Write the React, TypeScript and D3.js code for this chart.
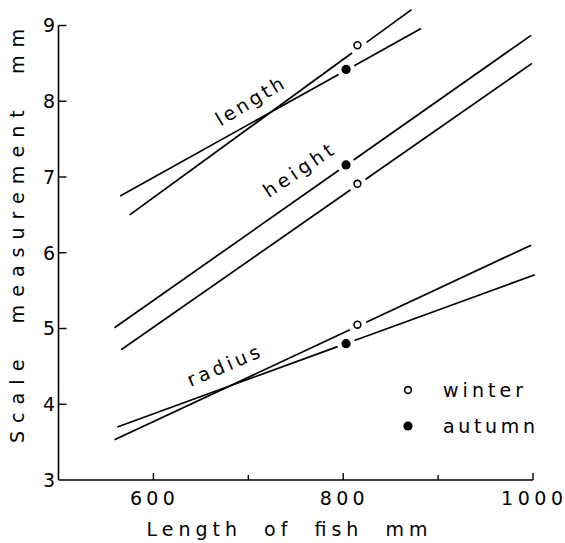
import React from "react";
import * as d3 from "d3";

// Regression lines
const lineNames = ["length", "length", "height", "height", "radius", "radius"];
const lineSeasons = ["winter", "autumn", "autumn", "winter", "winter", "autumn"];
const lineX0 = [575, 565, 559, 566, 559, 562];
const lineY0 = [6.5, 6.75, 5.01, 4.72, 3.53, 3.7];
const lineX1 = [872, 882, 998, 999, 998, 1002];
const lineY1 = [9.21, 8.96, 8.87, 8.5, 6.1, 5.71];
const markerX = [815, 803, 803, 815, 815, 803];
const markerY = [8.74, 8.42, 7.16, 6.91, 5.05, 4.8];

const xTicksMajor = [600, 800, 1000];
const xTicksMinor = [700, 900];
const yTicks = [3, 4, 5, 6, 7, 8, 9];

const labels = ["length", "height", "radius"];
const legendItems = ["winter", "autumn"];
const xTitle = "Length  of  fish  mm";
const yTitle = "Scale  measurement  mm";

const W = 565;
const H = 543;
const FONT = "'DejaVu Sans', sans-serif";

export default function App() {
  const x = d3.scaleLinear().domain([500, 1000]).range([58.5, 533]);
  const y = d3.scaleLinear().domain([3, 9]).range([480, 25.5]);
  const gap = 9;

  const segs: JSX.Element[] = [];
  const marks: JSX.Element[] = [];
  lineX0.forEach((_, i) => {
    const ax = x(lineX0[i]), ay = y(lineY0[i]);
    const bx = x(lineX1[i]), by = y(lineY1[i]);
    const mx = x(markerX[i]), my = y(markerY[i]);
    const dx = bx - ax, dy = by - ay;
    const len = Math.hypot(dx, dy);
    const ux = dx / len, uy = dy / len;
    const t = (mx - ax) * ux + (my - ay) * uy;
    const line = d3.line();
    const p1: [number, number][] = [[ax, ay], [ax + ux * (t - gap), ay + uy * (t - gap)]];
    const p2: [number, number][] = [[ax + ux * (t + gap), ay + uy * (t + gap)], [bx, by]];
    segs.push(<path key={"a" + i} d={line(p1) || ""} stroke="#000" strokeWidth={1.7} fill="none" />);
    segs.push(<path key={"b" + i} d={line(p2) || ""} stroke="#000" strokeWidth={1.7} fill="none" />);
    if (lineSeasons[i] === "winter") {
      marks.push(<circle key={"m" + i} cx={mx} cy={my} r={3.4} fill="#fff" stroke="#000" strokeWidth={1.6} />);
    } else {
      marks.push(<circle key={"m" + i} cx={mx} cy={my} r={4.6} fill="#000" />);
    }
  });

  const labelPos = [
    { cx: 253, cy: 107, ang: -31, len: 76 },
    { cx: 302, cy: 176, ang: -34, len: 80 },
    { cx: 226, cy: 372, ang: -23, len: 77 },
  ];

  return (
    <svg width={W} height={H} style={{ position: "absolute", left: 0, top: 0, background: "#fff" }}
      fontFamily={FONT}>
      <rect width={W} height={H} fill="#fff" />
      <line x1={x(500)} y1={y(9)} x2={x(500)} y2={y(3)} stroke="#000" strokeWidth={1.6} />
      <line x1={x(500)} y1={y(3)} x2={x(1000)} y2={y(3)} stroke="#000" strokeWidth={1.6} />
      {yTicks.map((v) => (
        <g key={"yt" + v}>
          {v > 3 && <line x1={x(500)} x2={x(500) + 8} y1={y(v)} y2={y(v)} stroke="#000" strokeWidth={1.4} />}
          <text x={55} y={y(v)} dy="0.36em" textAnchor="end" fontSize={19}>{v}</text>
        </g>
      ))}
      {xTicksMajor.map((v) => (
        <g key={"xt" + v}>
          <line x1={x(v)} x2={x(v)} y1={y(3)} y2={y(3) - 7} stroke="#000" strokeWidth={1.4} />
          <text x={x(v) - 1} y={505} textAnchor="middle" fontSize={19}
            textLength={String(v).length === 4 ? 62 : 45} lengthAdjust="spacing">{v}</text>
        </g>
      ))}
      {xTicksMinor.map((v) => (
        <line key={"xm" + v} x1={x(v)} x2={x(v)} y1={y(3)} y2={y(3) - 5} stroke="#000" strokeWidth={1.4} />
      ))}
      <text x={287} y={536} textAnchor="middle" fontSize={19} textLength={281} lengthAdjust="spacing"
        style={{ whiteSpace: "pre" }}>
        {xTitle}
      </text>
      <text transform="translate(24,236) rotate(-90)" textAnchor="middle" fontSize={19}
        textLength={414} lengthAdjust="spacing" style={{ whiteSpace: "pre" }}>
        {yTitle}
      </text>
      {segs}
      {marks}
      {labels.map((l, i) => (
        <text key={l} transform={`translate(${labelPos[i].cx},${labelPos[i].cy}) rotate(${labelPos[i].ang})`}
          textAnchor="middle" fontSize={19} textLength={labelPos[i].len} lengthAdjust="spacing">{l}</text>
      ))}
      {legendItems.map((l, i) => (
        <g key={l}>
          {i === 0 ? (
            <circle cx={408} cy={390 + i * 36} r={3.4} fill="#fff" stroke="#000" strokeWidth={1.6} />
          ) : (
            <circle cx={408} cy={390 + i * 36} r={4.6} fill="#000" />
          )}
          <text x={443} y={397 + i * 36} fontSize={19} textLength={i === 0 ? 80 : 92} lengthAdjust="spacing">{l}</text>
        </g>
      ))}
    </svg>
  );
}
